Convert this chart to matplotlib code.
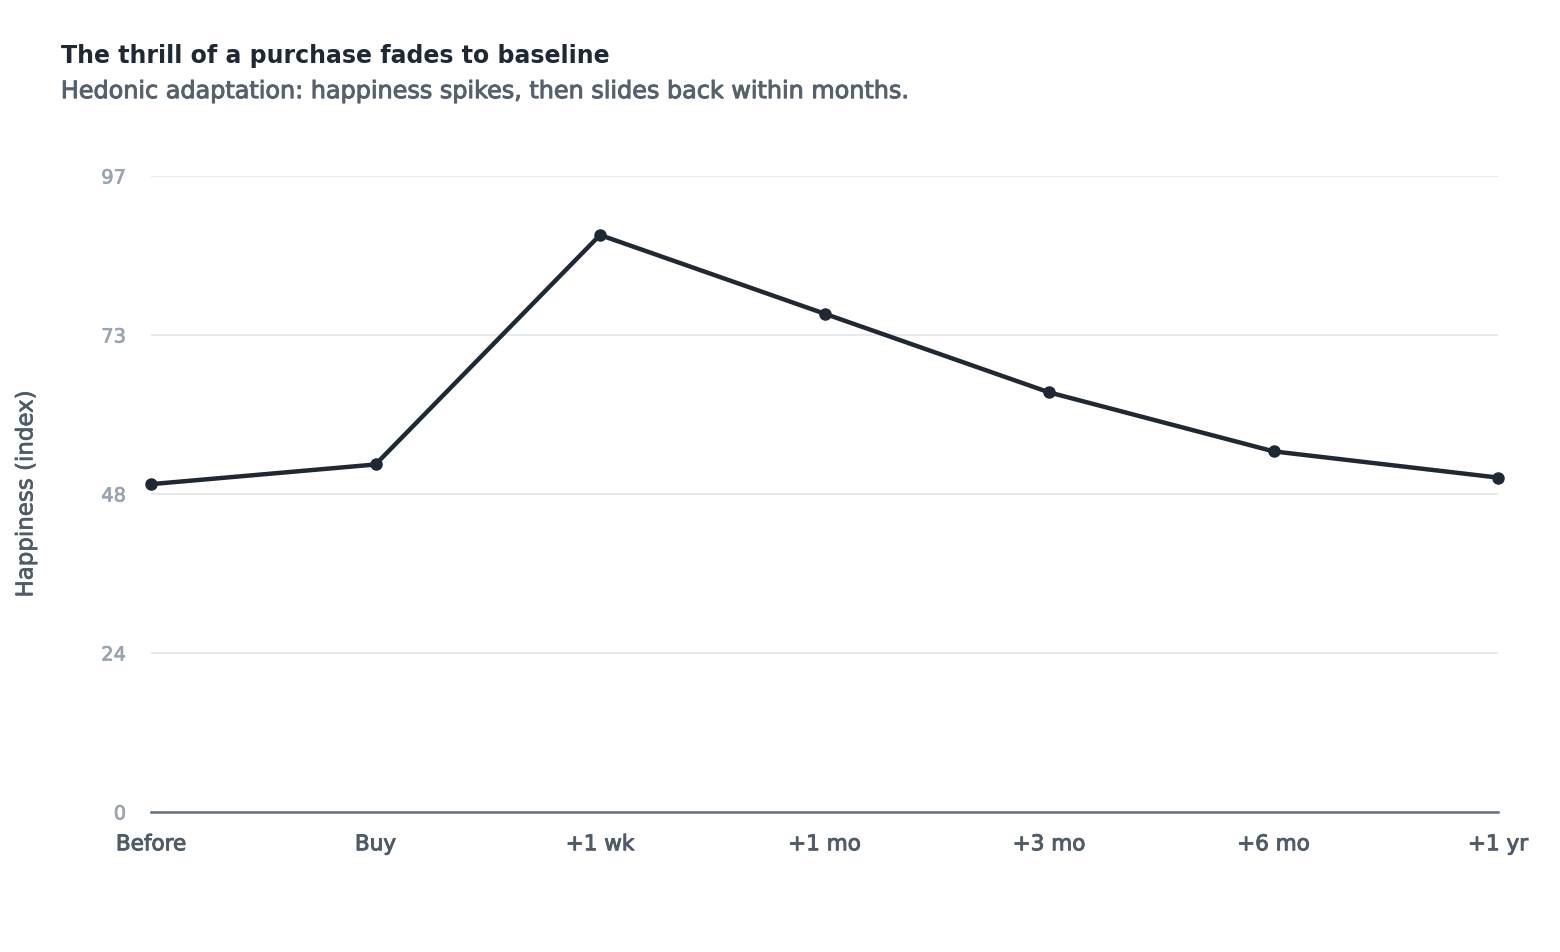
import numpy as np
import matplotlib
matplotlib.use("Agg")
import matplotlib.pyplot as plt
import matplotlib.patheffects as pe

# data
stages = ["Before", "Buy", "+1 wk", "+1 mo", "+3 mo", "+6 mo", "+1 yr"]
happiness = [50, 53, 88, 76, 64, 55, 51]
y_max = 97

plt.rcParams['font.family'] = ['DejaVu Sans']

def thick(c, w=0.5):
    # slightly heavier strokes, the reference font is a medium weight
    return [pe.withStroke(linewidth=w, foreground=c)]

fig = plt.figure(figsize=(15.6, 9.53), dpi=100)
ax = fig.add_axes([0.0968, 0.1469, 0.8635, 0.6674])

xpos = np.arange(len(stages))
ax.plot(xpos, happiness, color="#1f2933", lw=3.2, marker="o", ms=8,
        solid_joinstyle="round", zorder=3, clip_on=False)

ax.set_xlim(0, len(stages) - 1)
ax.set_ylim(0, y_max)
yt = np.linspace(0, y_max, 5)
ax.set_yticks(yt)
ax.set_yticklabels([str(int(round(v - 0.01))) for v in yt])
ax.set_xticks(xpos)
ax.set_xticklabels(stages)

ax.grid(axis="y", color="#e5e7eb", lw=1.3)
ax.set_axisbelow(True)
for s in ["top", "right", "left"]:
    ax.spines[s].set_visible(False)
ax.spines["bottom"].set_color("#64707d")
ax.spines["bottom"].set_linewidth(1.8)

ax.tick_params(axis="y", length=0, pad=18, labelsize=14, labelcolor="#9aa3ae")
ax.tick_params(axis="x", length=0, pad=16, labelsize=15.5, labelcolor="#4f5b67")
for t in ax.get_xticklabels():
    t.set_path_effects(thick("#4f5b67", 0.7))
for t in ax.get_yticklabels():
    t.set_path_effects(thick("#9aa3ae", 0.5))

ax.set_ylabel("Happiness (index)", fontsize=16.5, color="#4f5b67", labelpad=46,
              path_effects=thick("#4f5b67", 0.5))

fig.text(0.039, 0.934, "The thrill of a purchase fades to baseline",
         fontsize=17, fontweight="bold", color="#1f2933", va="baseline")
fig.text(0.039, 0.896, "Hedonic adaptation: happiness spikes, then slides back within months.",
         fontsize=17.2, color="#56616d", va="baseline",
         path_effects=thick("#56616d", 0.7))

fig.savefig("out.png", dpi=100)
